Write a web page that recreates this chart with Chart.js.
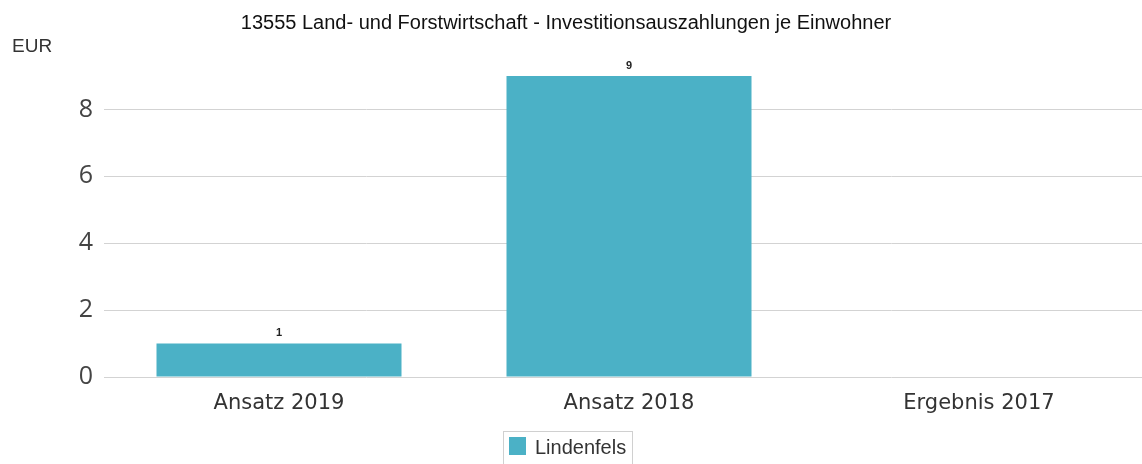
<!DOCTYPE html>
<html>
<head>
<meta charset="utf-8">
<style>
  html, body { margin: 0; padding: 0; background: #fff; overflow: hidden; }
  #wrap { position: relative; width: 1160px; height: 464px; }
</style>
<script src="https://cdn.jsdelivr.net/npm/chart.js@4.4.6/dist/chart.umd.min.js"></script>
</head>
<body>
<div id="wrap"><canvas id="chart" width="1160" height="464"></canvas></div>
<script>
// data
const title = "13555 Land- und Forstwirtschaft - Investitionsauszahlungen je Einwohner";
const unitLabel = "EUR";
const categories = ["Ansatz 2019", "Ansatz 2018", "Ergebnis 2017"];
const seriesName = "Lindenfels";
const values = [1, 9, null];
const yTicks = [0, 2, 4, 6, 8];

const BAR = "#4bb1c6";
const TEXT = "#333";
const SANS = "'Liberation Sans', Arial, sans-serif";

// value labels above bars
const valueLabels = {
  id: "valueLabels",
  afterDatasetsDraw(chart) {
    const ctx = chart.ctx;
    const meta = chart.getDatasetMeta(0);
    ctx.save();
    ctx.font = `bold 11px ${SANS}`;
    ctx.fillStyle = "#222";
    ctx.textAlign = "center";
    ctx.textBaseline = "bottom";
    meta.data.forEach((bar, i) => {
      if (values[i] == null) return;
      ctx.fillText(String(values[i]), bar.x, bar.y - 5);
    });
    ctx.restore();
  }
};

// title, unit label and framed legend
const extras = {
  id: "extras",
  afterDraw(chart) {
    const ctx = chart.ctx;
    ctx.save();
    ctx.textBaseline = "middle";

    ctx.font = `20px ${SANS}`;
    ctx.fillStyle = "#111";
    ctx.textAlign = "center";
    ctx.fillText(title, 566, 23);

    ctx.font = `19px ${SANS}`;
    ctx.fillStyle = TEXT;
    ctx.textAlign = "left";
    ctx.fillText(unitLabel, 12, 47);

    // legend
    ctx.strokeStyle = "#d0d0d0";
    ctx.lineWidth = 1;
    ctx.strokeRect(503.5, 431.5, 129, 40);
    ctx.fillStyle = chart.data.datasets[0].backgroundColor;
    ctx.fillRect(509, 437, 17, 18);
    ctx.font = `20px ${SANS}`;
    ctx.fillStyle = TEXT;
    ctx.fillText(chart.data.datasets[0].label, 535, 448);
    ctx.restore();
  }
};

new Chart(document.getElementById("chart"), {
  type: "bar",
  data: {
    labels: categories,
    datasets: [{
      label: seriesName,
      data: values,
      backgroundColor: BAR,
      borderWidth: 0,
      barPercentage: 0.7,
      categoryPercentage: 1.0,
    }]
  },
  options: {
    responsive: false,
    animation: false,
    devicePixelRatio: 1,
    layout: { padding: { top: 76, right: 6, bottom: 47, left: 0 } },
    scales: {
      x: {
        afterFit(scale) { scale.height = 40; },
        grid: { display: false },
        border: { display: false },
        ticks: {
          color: TEXT,
          font: { family: "'DejaVu Sans', Verdana, sans-serif", size: 21 },
          padding: 6,
          maxRotation: 0,
        },
      },
      y: {
        min: 0,
        max: 9,
        afterBuildTicks(scale) { scale.ticks = yTicks.map(v => ({ value: v })); },
        afterFit(scale) { scale.width = 104; },
        grid: { color: "#d3d3d3", lineWidth: 1, drawTicks: false },
        border: { display: false },
        ticks: {
          color: "#444",
          font: { family: "'Open Sans', 'Liberation Sans', Arial, sans-serif", size: 25 },
          padding: 11,
        },
      },
    },
    plugins: {
      title: { display: false },
      legend: { display: false },
      tooltip: { enabled: false },
    },
  },
  plugins: [valueLabels, extras],
});
</script>
</body>
</html>
